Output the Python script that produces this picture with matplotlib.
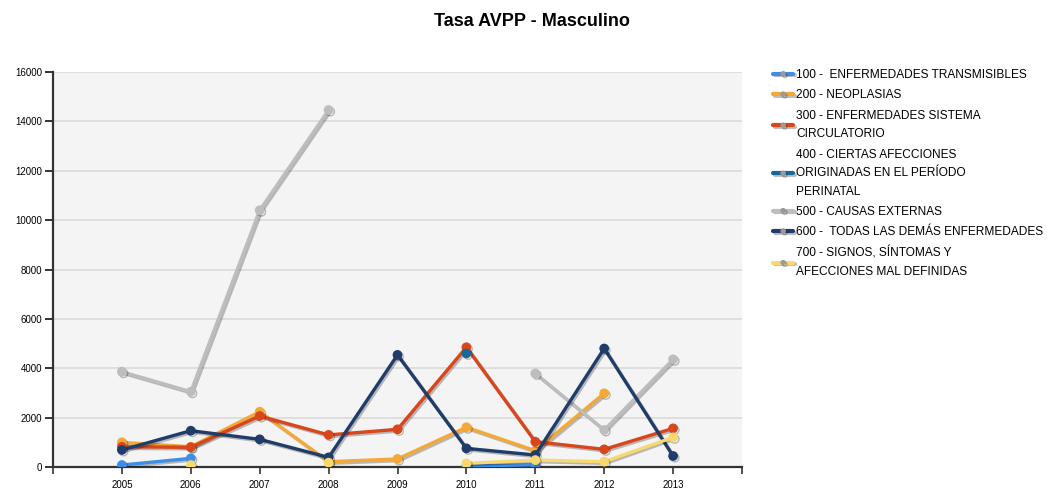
import numpy as np
import matplotlib
matplotlib.use("Agg")
import matplotlib.pyplot as plt
import matplotlib.patheffects as pe
from matplotlib.offsetbox import TextArea

NAN = np.nan
years = [2005, 2006, 2007, 2008, 2009, 2010, 2011, 2012, 2013]

labels = [
    "100 -  ENFERMEDADES TRANSMISIBLES",
    "200 - NEOPLASIAS",
    "300 - ENFERMEDADES SISTEMA\nCIRCULATORIO",
    "400 - CIERTAS AFECCIONES\nORIGINADAS EN EL PERÍODO\nPERINATAL",
    "500 - CAUSAS EXTERNAS",
    "600 -  TODAS LAS DEMÁS ENFERMEDADES",
    "700 - SIGNOS, SÍNTOMAS Y\nAFECCIONES MAL DEFINIDAS",
]

s100 = [80, 350, NAN, NAN, NAN, 40, 90, NAN, NAN]
s200 = [1000, 820, 2240, 215, 325, 1610, 660, 2985, NAN]
s300 = [820, 800, 2065, 1300, 1525, 4850, 1025, 715, 1565]
s400 = [NAN, NAN, NAN, NAN, NAN, 4600, NAN, NAN, NAN]
s500 = [3860, 3050, 10400, 14460, NAN, NAN, 3790, 1500, 4360]
s600 = [690, 1470, 1120, 390, 4540, 755, 485, 4800, 445]
s700 = [NAN, 80, NAN, 175, NAN, 150, 280, 215, 1200]

series = [s100, s200, s300, s400, s500, s600, s700]
colors = ["#3f8ee6", "#f5a836", "#d9461b", "#17699a", "#bdbdbd", "#1f3c6b", "#f8d96f"]

yticks = [0, 2000, 4000, 6000, 8000, 10000, 12000, 14000, 16000]

font = ["Liberation Sans", "DejaVu Sans"]

fig = plt.figure(figsize=(10.55, 4.97), dpi=100)
ax = fig.add_axes([53 / 1055, 1 - 467 / 497, (742 - 53) / 1055, (467 - 72) / 497])
ax.set_facecolor("#f4f4f4")

shadow = [pe.SimpleLineShadow(offset=(1.2, -1.2), shadow_color="#000000", alpha=0.25), pe.Normal()]
for vals, col, lab in zip(series, colors, labels):
    ax.plot(years, vals, color=col, lw=2.4, marker="o", ms=6, mfc=col, mec=col,
            label=lab, path_effects=shadow, solid_capstyle="round", zorder=3)

ax.set_xlim(2004, 2014)
ax.set_ylim(0, 16000)
ax.set_yticks(yticks)
ax.set_yticklabels([str(v) for v in yticks], family=font, fontsize=7)
ax.set_xticks(list(range(2004, 2015)))
ax.set_xticklabels([""] + [str(y) for y in years] + [""], family=font, fontsize=7)
ax.grid(axis="y", color="#dadada", lw=1.2)
ax.set_axisbelow(True)
for s in ["top", "right"]:
    ax.spines[s].set_visible(False)
for s in ["left", "bottom"]:
    ax.spines[s].set_color("#333333")
    ax.spines[s].set_linewidth(1.6)
ax.tick_params(axis="y", length=6, width=1.4, color="#333333", pad=2)
ax.tick_params(axis="x", length=5, width=1.2, color="#333333", pad=4)

fig.text(532 / 1055, 1 - 22 / 497, "Tasa AVPP - Masculino", ha="center", va="center",
         family=font, fontweight="bold", fontsize=13)

leg = fig.legend(loc="upper left", bbox_to_anchor=(773 / 1055, 1 - 69 / 497),
                 frameon=False, prop={"family": font, "size": 8.6},
                 handlelength=1.7, handletextpad=0.25, labelspacing=0.7,
                 borderaxespad=0, borderpad=0)
for t in leg.get_texts():
    t.set_linespacing(1.72)
for ta in leg.findobj(TextArea):
    ta.set_multilinebaseline(True)
for line in leg.get_lines():
    line.set_linewidth(3)
    line.set_markersize(3)
    line.set_markerfacecolor("#9a9a9a")
    line.set_markeredgecolor("#9a9a9a")

fig.savefig("out.png", dpi=100)
